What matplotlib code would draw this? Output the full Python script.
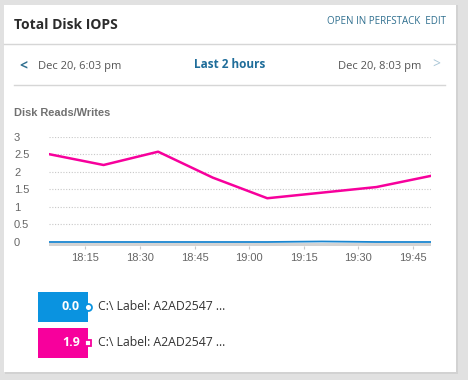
import matplotlib
matplotlib.use('Agg')
import matplotlib.pyplot as plt
from matplotlib.patches import Rectangle
from matplotlib.lines import Line2D

# data: minutes after 18:00
minutos = [5, 20, 35, 50, 65, 80, 95, 110]
leituras_c = [0.0, 0.0, 0.0, 0.0, 0.0, 0.015, 0.0, 0.0]
escritas_c = [2.51, 2.2, 2.58, 1.84, 1.25, 1.41, 1.57, 1.89]
yticks = [0, 0.5, 1, 1.5, 2, 2.5, 3]
ytick_labels = ['0', '0.5', '1', '1.5', '2', '2.5', '3']
xticks = [15, 30, 45, 60, 75, 90, 105]
xtick_labels = ['18:15', '18:30', '18:45', '19:00', '19:15', '19:30', '19:45']
legenda_valores = ['0.0', '1.9']
legenda_nomes = ['C:\\ Label: A2AD2547 ...', 'C:\\ Label: A2AD2547 ...']

azul = '#0a93e0'
azul_linha = '#1a86d0'
magenta = '#f7009c'

W, H = 468, 380


def fx(px):
    return px / W


def fy(py):
    return 1 - py / H


fig = plt.figure(figsize=(4.68, 3.80), dpi=100, facecolor='#e1e1e1')

# card (behind the axes)
fig.add_artist(Rectangle((fx(5), fy(374)), fx(453), 369 / H, transform=fig.transFigure,
                         facecolor='#d2d2d2', edgecolor='none', zorder=-3))
fig.add_artist(Rectangle((fx(4), fy(372)), fx(452), 367 / H, transform=fig.transFigure,
                         facecolor='white', edgecolor='none', zorder=-2))
fig.add_artist(Line2D([fx(4), fx(456)], [fy(44), fy(44)], transform=fig.transFigure,
                      color='#d6d6d6', lw=1, zorder=-1))
fig.add_artist(Line2D([fx(14), fx(445)], [fy(85), fy(85)], transform=fig.transFigure,
                      color='#d6d6d6', lw=1, zorder=-1))

ui = ['Open Sans', 'DejaVu Sans']
fig.text(fx(14), fy(25), 'Total Disk IOPS', family=ui, fontsize=10, fontweight='bold',
         color='#2b2b2b', va='center', ha='left')
fig.text(fx(446), fy(21), 'OPEN IN PERFSTACK  EDIT', family=ui, fontsize=7,
         color='#2f6f8f', va='center', ha='right')

fig.text(fx(23), fy(65), '<', family=ui, fontsize=10, fontweight='bold',
         color='#2f6f8f', va='center', ha='center')
fig.text(fx(38), fy(66), 'Dec 20, 6:03 pm', family=ui, fontsize=8,
         color='#555555', va='center', ha='left')
fig.text(fx(230), fy(64), 'Last 2 hours', family=ui, fontsize=8.5, fontweight='bold',
         color='#1f6d9a', va='center', ha='center')
fig.text(fx(421), fy(66), 'Dec 20, 8:03 pm', family=ui, fontsize=8,
         color='#555555', va='center', ha='right')
fig.text(fx(436), fy(65), '>', family=ui, fontsize=10,
         color='#a9c6d6', va='center', ha='center')

fig.text(fx(14), fy(113), 'Disk Reads/Writes', family=['Liberation Sans', 'DejaVu Sans'],
         fontsize=7.9, fontweight='bold', color='#707070', va='center', ha='left')

# chart
ymin = -0.11
ax = fig.add_axes([fx(49), fy(242 + (-ymin) * 35), (431 - 49) / W, (242 + (-ymin) * 35 - 137) / H])
ax.set_facecolor('none')
ax.set_xlim(minutos[0], minutos[-1])
ax.set_ylim(ymin, 3)
for s in ax.spines.values():
    s.set_visible(False)

for v in yticks[1:]:
    ax.axhline(v, color='#c8c8c8', lw=0.8, ls=(0, (1, 1.5)), zorder=1)
ax.axhspan(ymin, -0.02, color='#d3d3d3', lw=0, zorder=1)

ax.plot(minutos, escritas_c, color=magenta, lw=1.8, zorder=3)
ax.plot(minutos, leituras_c, color=azul_linha, lw=1.3, zorder=3)

ax.set_yticks(yticks)
ax.set_yticklabels(ytick_labels)
ax.set_xticks(xticks)
ax.set_xticklabels(xtick_labels)
ax.tick_params(axis='y', length=0, pad=25.2, labelsize=8, labelcolor='#666666')
ax.tick_params(axis='x', length=2.5, width=0.8, color='#c8c8c8', pad=3,
               labelsize=8, labelcolor='#666666')
for lab in ax.get_yticklabels():
    lab.set_horizontalalignment('left')
    lab.set_family(['Liberation Sans', 'DejaVu Sans'])
for lab in ax.get_xticklabels():
    lab.set_family(['Liberation Sans', 'DejaVu Sans'])

# legend
cores = [azul, magenta]
marcadores = ['o', 's']
topos = [292, 328]
for i in range(2):
    y0 = topos[i]
    fig.add_artist(Rectangle((fx(38), fy(y0 + 30)), fx(50), 30 / H, transform=fig.transFigure,
                             facecolor=cores[i], edgecolor='none', zorder=-1))
    fig.text(fx(80), fy(y0 + 15), legenda_valores[i], family=ui, fontsize=9,
             fontweight='bold', color='white', va='center', ha='right')
    fig.add_artist(Line2D([fx(88)], [fy(y0 + 15)], transform=fig.transFigure,
                          marker=marcadores[i], markersize=5 if i == 0 else 4.5,
                          markerfacecolor='white', markeredgecolor=cores[i],
                          markeredgewidth=1.3, ls='none'))
    fig.text(fx(98), fy(y0 + 15), legenda_nomes[i], family=ui, fontsize=8.8,
             color='#333333', va='center', ha='left')

fig.savefig('out.png', dpi=100, facecolor=fig.get_facecolor())
